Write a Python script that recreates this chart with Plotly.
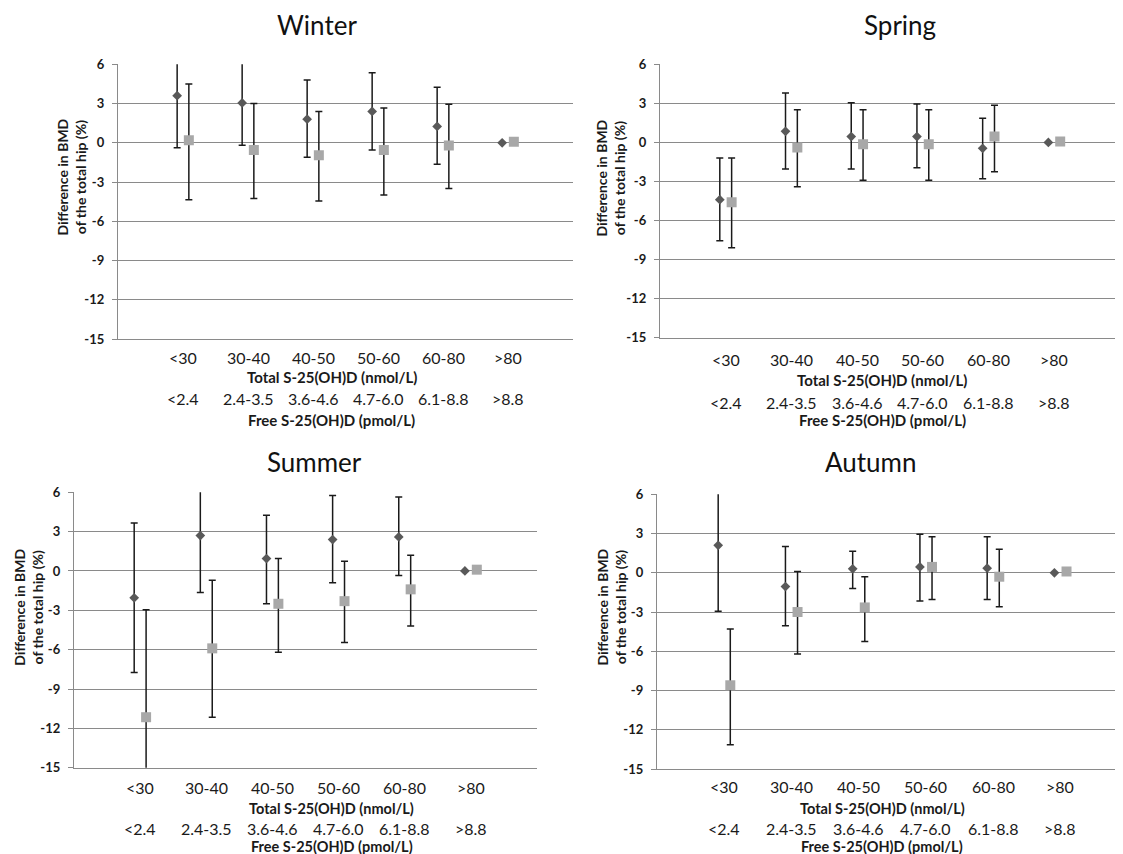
import math
import plotly.graph_objects as go

W, H = 1123, 854
PAD = 8  # default page body margin of the html page
FW, FH = W - PAD, H - PAD
FONT = "Lato"

# ---------------- data ----------------
total_labels = ["<30", "30-40", "40-50", "50-60", "60-80", ">80"]
free_labels = ["<2.4", "2.4-3.5", "3.6-4.6", "4.7-6.0", "6.1-8.8", ">8.8"]
categories = [1, 2, 3, 4, 5, 6]

seasons = ["Winter", "Spring", "Summer", "Autumn"]

winter_total = [3.6, 3.05, 1.8, 2.4, 1.25, 0.0]
winter_total_hi = [7.6, 6.3, 4.8, 5.35, 4.25, None]
winter_total_lo = [-0.37, -0.19, -1.1, -0.55, -1.65, None]
winter_free = [0.2, -0.55, -0.95, -0.55, -0.2, 0.07]
winter_free_hi = [4.5, 3.0, 2.4, 2.65, 2.95, None]
winter_free_lo = [-4.35, -4.25, -4.45, -4.0, -3.5, None]

spring_total = [-4.4, 0.85, 0.45, 0.45, -0.45, 0.0]
spring_total_hi = [-1.2, 3.8, 3.05, 2.95, 1.85, None]
spring_total_lo = [-7.55, -2.05, -2.05, -1.95, -2.8, None]
spring_free = [-4.6, -0.4, -0.15, -0.15, 0.45, 0.07]
spring_free_hi = [-1.2, 2.5, 2.5, 2.5, 2.85, None]
spring_free_lo = [-8.1, -3.4, -2.9, -2.9, -2.25, None]

summer_total = [-2.05, 2.7, 0.95, 2.4, 2.6, 0.0]
summer_total_hi = [3.65, 7.05, 4.25, 5.75, 5.65, None]
summer_total_lo = [-7.75, -1.65, -2.5, -0.9, -0.35, None]
summer_free = [-11.15, -5.9, -2.5, -2.3, -1.4, 0.1]
summer_free_hi = [-2.95, -0.7, 0.95, 0.75, 1.2, None]
summer_free_lo = [-19.4, -11.15, -6.2, -5.45, -4.2, None]

autumn_total = [2.1, -1.05, 0.3, 0.45, 0.35, 0.0]
autumn_total_hi = [7.15, 2.0, 1.65, 2.95, 2.75, None]
autumn_total_lo = [-2.95, -4.05, -1.2, -2.15, -2.05, None]
autumn_free = [-8.6, -3.0, -2.65, 0.45, -0.3, 0.1]
autumn_free_hi = [-4.3, 0.1, -0.3, 2.75, 1.8, None]
autumn_free_lo = [-13.15, -6.2, -5.25, -2.05, -2.6, None]

y_ticks = [6, 3, 0, -3, -6, -9, -12, -15]

series = {
    "Winter": (winter_total, winter_total_hi, winter_total_lo, winter_free, winter_free_hi, winter_free_lo),
    "Spring": (spring_total, spring_total_hi, spring_total_lo, spring_free, spring_free_hi, spring_free_lo),
    "Summer": (summer_total, summer_total_hi, summer_total_lo, summer_free, summer_free_hi, summer_free_lo),
    "Autumn": (autumn_total, autumn_total_hi, autumn_total_lo, autumn_free, autumn_free_hi, autumn_free_lo),
}

# ---------------- layout geometry (page pixels) ----------------
# plot box: left, right, top, bottom, x-range max
panel_box = {
    "Winter": (118, 573, 64.3, 339.0, 7.0),
    "Spring": (660, 1120, 64.3, 337.7, 7.0),
    "Summer": (74, 537, 492.3, 767.7, 7.0),
    "Autumn": (657, 1123, 494.3, 769.0, 6.93),
}
title_pos = {"Winter": (317, 25), "Spring": (900, 25), "Summer": (315, 462), "Autumn": (871, 462)}
ytitle_pos = {"Winter": (70.5, 177), "Spring": (610.5, 178), "Summer": (27.7, 607), "Autumn": (611, 607.5)}
# rows below plot: row1, total title, row2, free title (y centers), title x, title size
row_pos = {
    "Winter": (357, 377.5, 398.5, 420, 332, 15),
    "Spring": (360, 379.5, 402, 420, 882, 15),
    "Summer": (787, 808.5, 828, 846.5, 332, 14.5),
    "Autumn": (786.5, 808.5, 828, 846.5, 882, 14.5),
}

OFF = 0.09
GRID = "#8a8a8a"
DIAMOND = "#595959"
SQUARE = "#a8a8a8"
ERR = "#1a1a1a"


def px_x(p):
    return (p - PAD) / FW


def px_y(p):
    return 1 - (p - PAD) / FH


def err_arrays(vals, hi, lo):
    plus = [(h - v) if h is not None else float("nan") for v, h in zip(vals, hi)]
    minus = [(v - l) if l is not None else float("nan") for v, l in zip(vals, lo)]
    return plus, minus


fig = go.Figure()
annotations = []

for i, s in enumerate(seasons):
    idx = "" if i == 0 else str(i + 1)
    xa, ya = "x" + idx, "y" + idx
    left, right, top, bottom, xmax = panel_box[s]
    right = min(right, W)
    t, th, tl, f, fh, fl = series[s]

    tp, tm = err_arrays(t, th, tl)
    fp, fm = err_arrays(f, fh, fl)

    fig.add_trace(go.Scatter(
        x=[c - OFF for c in categories], y=t, mode="markers",
        marker=dict(symbol="diamond", size=7.5, color=DIAMOND),
        error_y=dict(type="data", symmetric=False, array=tp, arrayminus=tm,
                     color=ERR, thickness=1.5, width=3.5),
        xaxis=xa, yaxis=ya, showlegend=False, name="Total S-25(OH)D",
    ))
    fig.add_trace(go.Scatter(
        x=[c + OFF for c in categories], y=f, mode="markers",
        marker=dict(symbol="square", size=10, color=SQUARE),
        error_y=dict(type="data", symmetric=False, array=fp, arrayminus=fm,
                     color=ERR, thickness=1.5, width=3.5),
        xaxis=xa, yaxis=ya, showlegend=False, name="Free S-25(OH)D",
    ))

    xkey = "xaxis" + idx
    ykey = "yaxis" + idx
    fig.update_layout(**{
        xkey: dict(
            domain=[px_x(left), min(px_x(right), 1.0)], range=[0, xmax], anchor=ya,
            showgrid=False, zeroline=False, showline=True, linecolor=GRID, linewidth=1.3,
            tickmode="array", tickvals=categories, ticktext=[""] * 6, ticks="",
            fixedrange=True,
        ),
        ykey: dict(
            domain=[px_y(bottom), px_y(top)], range=[-15, 6], anchor=xa,
            tickmode="array", tickvals=y_ticks, ticktext=[f"<b>{v}</b>" for v in y_ticks],
            showgrid=True, gridcolor=GRID, gridwidth=1.3,
            zeroline=False, showline=True, linecolor=GRID, linewidth=1.3,
            ticks="outside", ticklen=5, tickcolor=GRID, tickwidth=1.3,
            ticklabelstandoff=5,
            tickfont=dict(family=FONT, size=13, color="#1a1a1a"),
            fixedrange=True,
        ),
    })

    tx, ty = title_pos[s]
    annotations.append(dict(text=s, x=px_x(tx), y=px_y(ty), xref="paper", yref="paper",
                            showarrow=False, xanchor="center", yanchor="middle",
                            font=dict(family=FONT, size=26, color="#111111")))
    yx, yy = ytitle_pos[s]
    annotations.append(dict(text="<b>Difference in BMD<br>of the total hip (%)</b>",
                            x=px_x(yx), y=px_y(yy), xref="paper", yref="paper",
                            showarrow=False, xanchor="center", yanchor="middle", textangle=-90,
                            font=dict(family=FONT, size=14, color="#1a1a1a")))
    r1, rt, r2, rf, tcx, tsize = row_pos[s]
    for c, lab1, lab2 in zip(categories, total_labels, free_labels):
        annotations.append(dict(text=lab1, x=c, y=px_y(r1), xref=xa, yref="paper",
                                showarrow=False, xanchor="center", yanchor="middle",
                                borderpad=0,
                                font=dict(family=FONT, size=16, color="#1a1a1a")))
        annotations.append(dict(text=lab2, x=c, y=px_y(r2), xref=xa, yref="paper",
                                showarrow=False, xanchor="center", yanchor="middle",
                                borderpad=0,
                                font=dict(family=FONT, size=16, color="#1a1a1a")))
    annotations.append(dict(text="<b>Total S-25(OH)D (nmol/L)</b>", x=px_x(tcx), y=px_y(rt),
                            xref="paper", yref="paper", showarrow=False,
                            xanchor="center", yanchor="middle", borderpad=0,
                            font=dict(family=FONT, size=tsize, color="#1a1a1a")))
    annotations.append(dict(text="<b>Free S-25(OH)D (pmol/L)</b>", x=px_x(tcx), y=px_y(rf),
                            xref="paper", yref="paper", showarrow=False,
                            xanchor="center", yanchor="middle", borderpad=0,
                            font=dict(family=FONT, size=tsize, color="#1a1a1a")))

fig.update_layout(
    width=FW, height=FH,
    margin=dict(l=0, r=0, t=0, b=0, autoexpand=False),
    paper_bgcolor="white", plot_bgcolor="white",
    annotations=annotations,
    font=dict(family=FONT),
)

fig.write_html("out.html")
